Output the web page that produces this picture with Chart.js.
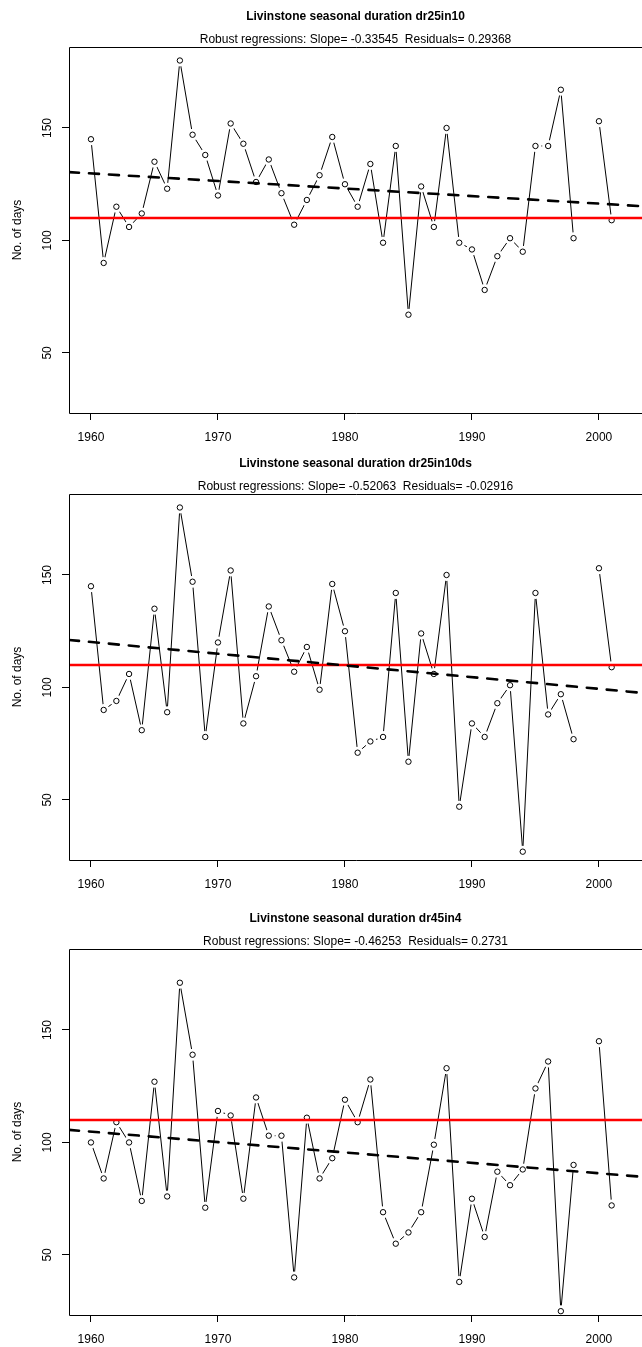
<!DOCTYPE html>
<html>
<head>
<meta charset="utf-8">
<script src="https://cdn.jsdelivr.net/npm/chart.js@4.4.0/dist/chart.umd.min.js"></script>
<style>
html,body{margin:0;padding:0;background:#ffffff;}
body{width:642px;height:1347px;position:relative;overflow:hidden;}
canvas{position:absolute;left:0;display:block;}
</style>
</head>
<body>
<canvas id="c0" width="642" height="447" style="top:0px"></canvas>
<canvas id="c1" width="642" height="455" style="top:447px"></canvas>
<canvas id="c2" width="642" height="445" style="top:902px"></canvas>
<script>
// ---------------- data ----------------
const years = [1960,1961,1962,1963,1964,1965,1966,1967,1968,1969,
               1970,1971,1972,1973,1974,1975,1976,1977,1978,1979,
               1980,1981,1982,1983,1984,1985,1986,1987,1988,1989,
               1990,1991,1992,1993,1994,1995,1996,1997,1998,1999,
               2000,2001];

const dr25in10 = [145, 90,115,106,112,135,123,180,147,138,
                  120,152,143,126,136,121,107,118,129,146,
                  125,115,134, 99,142, 67,124,106,150, 99,
                   96, 78, 93,101, 95,142,142,167,101,null,
                  153,109];

const dr25in10ds = [145, 90, 94,106, 81,135, 89,180,147, 78,
                    120,152, 84,105,136,121,107,118, 99,146,
                    125, 71, 76, 78,142, 67,124,106,150, 47,
                     84, 78, 93,101, 27,142, 88, 97, 77,null,
                    153,109];

const dr45in4 = [100, 84,109,100, 74,127, 76,171,139, 71,
                 114,112, 75,120,103,103, 40,111, 84, 93,
                 119,109,128, 69, 55, 60, 69, 99,133, 38,
                  75, 58, 87, 81, 88,124,136, 25, 90,null,
                 145, 72];

const titles = ["Livinstone seasonal duration dr25in10",
                "Livinstone seasonal duration dr25in10ds",
                "Livinstone seasonal duration dr45in4"];
const subtitles = ["Robust regressions: Slope= -0.33545  Residuals= 0.29368",
                   "Robust regressions: Slope= -0.52063  Residuals= -0.02916",
                   "Robust regressions: Slope= -0.46253  Residuals= 0.2731"];
const slopes = [-0.33545, -0.52063, -0.46253];
const trendAt1960 = [129.8, 120.2, 104.8];
const refLevel = 110;
const xTicks = [1960, 1970, 1980, 1990, 2000];
const yTicks = [50, 100, 150];
const yLabel = "No. of days";

// ---------------- chart setup ----------------
const FONT = "'Liberation Sans', Arial, Helvetica, sans-serif";
const X_MIN = 1958.27, X_MAX = 2003.39;
const Y_MIN = 23.3, Y_MAX = 186;
const series = [dr25in10, dr25in10ds, dr45in4];
const bottomPad = [2, 10, 0];

const boxPlugin = {
  id: 'rbox',
  afterDraw(chart) {
    const {ctx, chartArea: a, width} = chart;
    const l = Math.round(a.left) + 0.5, t = Math.round(a.top) + 0.5, b = Math.round(a.bottom) + 0.5;
    ctx.save();
    ctx.strokeStyle = '#000000';
    ctx.lineWidth = 1;
    ctx.beginPath();
    ctx.moveTo(width + 2, t);
    ctx.lineTo(l, t);
    ctx.lineTo(l, b);
    ctx.lineTo(width + 2, b);
    ctx.stroke();
    ctx.restore();
  }
};

function makeChart(k) {
  const vals = series[k];
  const pts = years.map((yr, i) => ({x: yr, y: vals[i]}));
  const trend = [X_MIN, X_MAX].map(x => ({x: x, y: trendAt1960[k] + slopes[k] * (x - 1960)}));
  const ref = [X_MIN, X_MAX].map(x => ({x: x, y: refLevel}));
  return new Chart(document.getElementById('c' + k), {
    type: 'line',
    data: {
      datasets: [
        {data: trend, borderColor: '#000000', borderWidth: 2.6, borderDash: [10, 10],
         borderCapStyle: 'round', pointRadius: 0, fill: false, order: 1, clip: 0},
        {data: ref, borderColor: '#ff0000', borderWidth: 2.4, pointRadius: 0, fill: false, order: 2, clip: 0},
        {data: pts, showLine: false, pointRadius: 2.7, pointBorderWidth: 1,
         pointBorderColor: '#000000', pointBackgroundColor: 'rgba(0,0,0,0)', order: 3},
        {data: pts, showLine: false, pointRadius: 6, pointBorderWidth: 0,
         pointBorderColor: '#ffffff', pointBackgroundColor: '#ffffff', order: 4},
        {data: pts, borderColor: '#000000', borderWidth: 1, pointRadius: 0, spanGaps: false,
         tension: 0, fill: false, order: 5}
      ]
    },
    options: {
      responsive: false,
      animation: false,
      devicePixelRatio: 1,
      events: [],
      layout: {autoPadding: false, padding: {top: 0, left: 0, right: 0, bottom: bottomPad[k]}},
      plugins: {
        legend: {display: false},
        tooltip: {enabled: false},
        title: {display: true, text: titles[k], fullSize: false, color: '#000000',
                font: {family: FONT, size: 12, weight: 'bold', lineHeight: 1.2},
                padding: {top: 9.1, bottom: 0}},
        subtitle: {display: true, text: subtitles[k], fullSize: false, color: '#000000',
                   font: {family: FONT, size: 12, weight: 'normal', lineHeight: 1.2},
                   padding: {top: 9, bottom: 0.1}}
      },
      scales: {
        x: {
          type: 'linear', min: X_MIN, max: X_MAX,
          afterBuildTicks: s => { s.ticks = xTicks.map(v => ({value: v})); },
          afterFit: s => { s.height = 32; },
          grid: {drawOnChartArea: false, drawTicks: true, tickLength: 7, color: '#000000', lineWidth: 1},
          border: {display: false},
          ticks: {color: '#000000', font: {family: FONT, size: 12}, padding: 10,
                  maxRotation: 0, minRotation: 0, autoSkip: false, callback: v => String(v)}
        },
        y: {
          type: 'linear', min: Y_MIN, max: Y_MAX,
          afterBuildTicks: s => { s.ticks = yTicks.map(v => ({value: v})); },
          afterFit: s => { s.width = 69; },
          grid: {drawOnChartArea: false, drawTicks: true, tickLength: 7, color: '#000000', lineWidth: 1},
          border: {display: false},
          ticks: {color: '#000000', font: {family: FONT, size: 12}, padding: 4,
                  minRotation: 90, maxRotation: 90, crossAlign: 'center', autoSkip: false,
                  callback: v => String(v)},
          title: {display: true, text: yLabel, color: '#000000',
                  font: {family: FONT, size: 12, lineHeight: 1.2}, padding: {top: 10, bottom: 0}}
        }
      }
    },
    plugins: [boxPlugin]
  });
}

[0, 1, 2].forEach(makeChart);
</script>
</body>
</html>
